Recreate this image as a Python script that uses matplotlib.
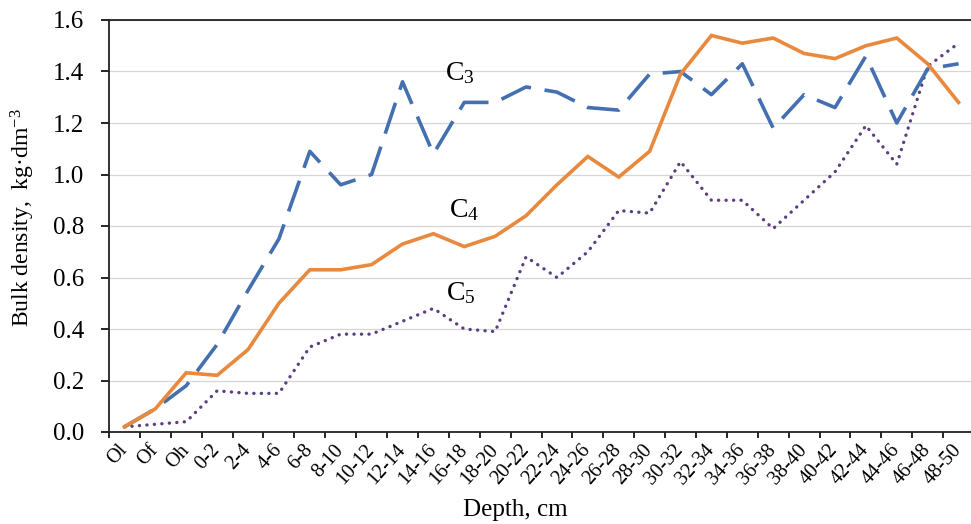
import matplotlib
matplotlib.use("Agg")
import matplotlib.pyplot as plt
import numpy as np

plt.rcParams["font.family"] = ["Liberation Serif", "DejaVu Serif"]
plt.rcParams["mathtext.fontset"] = "custom"
plt.rcParams["mathtext.rm"] = "Liberation Serif"
plt.rcParams["mathtext.it"] = "Liberation Serif:italic"

# depth classes (organic horizons, then 2 cm mineral layers)
depths = ["Ol", "Of", "Oh", "0-2", "2-4", "4-6", "6-8", "8-10", "10-12", "12-14",
          "14-16", "16-18", "18-20", "20-22", "22-24", "24-26", "26-28", "28-30",
          "30-32", "32-34", "34-36", "36-38", "38-40", "40-42", "42-44", "44-46",
          "46-48", "48-50"]

# bulk density, kg/dm3
c3 = [0.02, 0.09, 0.18, 0.34, 0.55, 0.75, 1.09, 0.96, 1.00, 1.36, 1.08, 1.28,
      1.28, 1.34, 1.32, 1.26, 1.25, 1.39, 1.40, 1.31, 1.43, 1.18, 1.31, 1.26,
      1.46, 1.20, 1.41, 1.43]
c4 = [0.02, 0.09, 0.23, 0.22, 0.32, 0.50, 0.63, 0.63, 0.65, 0.73, 0.77, 0.72,
      0.76, 0.84, 0.96, 1.07, 0.99, 1.09, 1.39, 1.54, 1.51, 1.53, 1.47, 1.45,
      1.50, 1.53, 1.43, 1.28]
c5 = [0.02, 0.03, 0.04, 0.16, 0.15, 0.15, 0.33, 0.38, 0.38, 0.43, 0.48, 0.40,
      0.39, 0.68, 0.60, 0.70, 0.86, 0.85, 1.05, 0.90, 0.90, 0.79, 0.90, 1.01,
      1.19, 1.04, 1.42, 1.51]

x = np.arange(len(depths))

fig = plt.figure(figsize=(9.71, 5.24), dpi=100)
ax = fig.add_axes([109 / 971, 1 - 432 / 524, (974 - 109) / 971, 412 / 524])

ax.plot(x, c3, color="#4470B0", lw=2.6, linestyle=(0, (9, 3.8)),
        dash_capstyle="butt", zorder=3)
ax.plot(x, c4, color="#E8893E", lw=2.6, solid_joinstyle="miter", zorder=4)
ax.plot(x, c5, color="#5C3F80", lw=2.4, linestyle=(0, (0.05, 2.2)),
        dash_capstyle="round", zorder=2)

# curve labels
ax.text(10.38, 1.367, "C$_3$", fontsize=20, ha="left", va="baseline")
ax.text(10.5, 0.835, "C$_4$", fontsize=20, ha="left", va="baseline")
ax.text(10.42, 0.513, "C$_5$", fontsize=20, ha="left", va="baseline")

ax.set_xlim(-0.5, len(depths) - 0.5)
ax.set_ylim(0, 1.6)
ax.set_yticks(np.arange(0, 1.61, 0.2))
ax.set_yticklabels([f"{v:.1f}" for v in np.arange(0, 1.61, 0.2)], fontsize=18)
ax.tick_params(axis="y", direction="out", length=6, width=1.2, pad=12)

ax.set_xticks(x)
ax.set_xticklabels(depths, fontsize=14.5, rotation=48, ha="right", va="center",
                   rotation_mode="anchor")
ax.set_xticks(np.arange(-0.5, len(depths), 1.0), minor=True)
ax.tick_params(axis="x", which="major", length=0, pad=11)
ax.tick_params(axis="x", which="minor", direction="out", length=4, width=1.2)

ax.grid(axis="y", color="#D6D6D6", lw=0.9)
ax.set_axisbelow(True)
for side in ["left", "bottom", "top", "right"]:
    ax.spines[side].set_color("#222222")
    ax.spines[side].set_linewidth(1.3)

ax.set_ylabel("Bulk density,  kg\u00b7dm$^{-3}$", fontsize=17, va="center")
ax.yaxis.set_label_coords(-0.1, 0.52)
ax.set_xlabel("Depth, cm", fontsize=18, va="center")
ax.xaxis.set_label_coords(0.47, -0.19)

fig.savefig("out.png", dpi=100)
